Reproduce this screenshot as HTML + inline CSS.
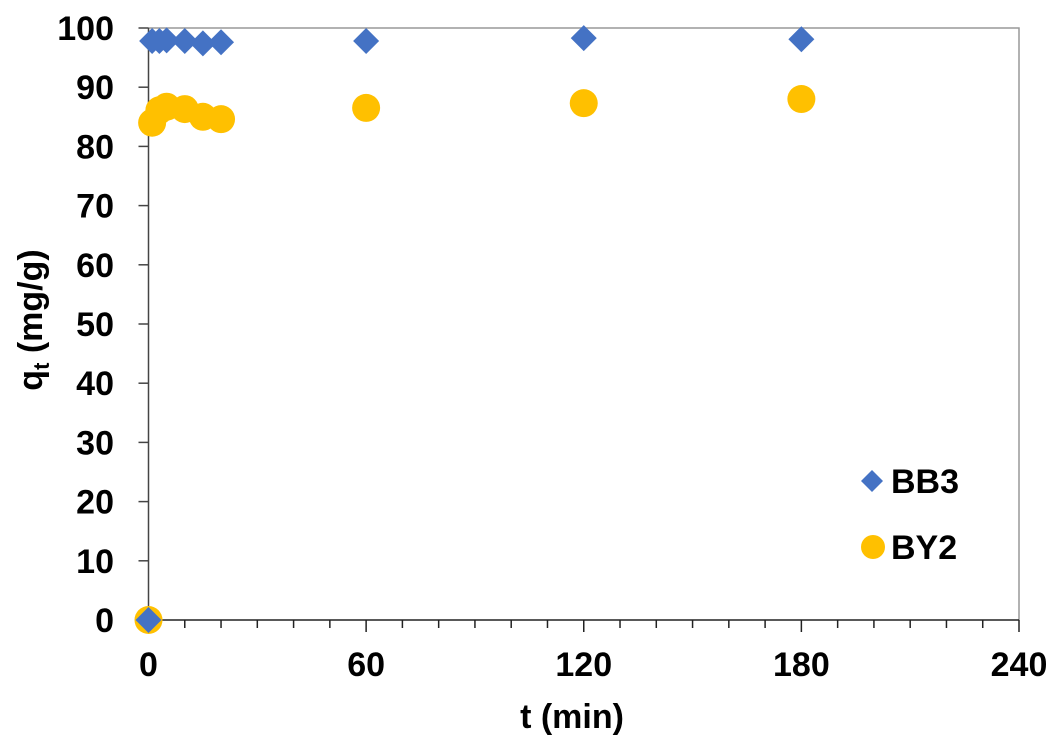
<!DOCTYPE html>
<html><head><meta charset="utf-8"><style>
html,body{margin:0;padding:0;background:#fff}
svg{display:block;font-family:"Liberation Sans",Arial,sans-serif;font-weight:bold}
</style></head><body>
<svg id="chart" width="1061" height="754" viewBox="0 0 1061 754" xmlns="http://www.w3.org/2000/svg">
<g id="axes"></g>
<g id="marks"></g>
<text x="572" y="728" font-size="34" text-anchor="middle">t (min)</text>
<text transform="translate(42,320) rotate(-90)" font-size="34" text-anchor="middle">q<tspan font-size="22" dy="7">t</tspan><tspan dy="-7"> (mg/g)</tspan></text>
<g>
<polygon points="872,470 883,481 872,492 861,481" fill="#4472C4"/>
<text x="891" y="493" font-size="34">BB3</text>
<circle cx="873" cy="547" r="12" fill="#FFC000"/>
<text x="891" y="559" font-size="34">BY2</text>
</g>
</svg>
<script>
const tBB3 = [0, 1, 3, 5, 10, 15, 20, 60, 120, 180];
const qBB3 = [0, 97.8, 97.8, 97.9, 97.8, 97.4, 97.6, 97.8, 98.3, 98.1];
const tBY2 = [0, 1, 3, 5, 10, 15, 20, 60, 120, 180];
const qBY2 = [0, 84.0, 86.1, 86.7, 86.3, 85.0, 84.6, 86.5, 87.3, 88.0];
const xTicks = [0, 60, 120, 180, 240];
const yTicks = [0, 10, 20, 30, 40, 50, 60, 70, 80, 90, 100];

const X0 = 148.5, X1 = 1019, Y0 = 620, Y1 = 28;
const xs = v => X0 + (v / 240) * (X1 - X0);
const ys = v => Y0 - (v / 100) * (Y0 - Y1);
const NS = "http://www.w3.org/2000/svg";
const axes = document.getElementById('axes');
const marks = document.getElementById('marks');
function mk(tag, attrs, parent) {
  const e = document.createElementNS(NS, tag);
  for (const k in attrs) e.setAttribute(k, attrs[k]);
  parent.appendChild(e);
  return e;
}
let f = mk('path', {d:`M${X0},${Y1} H${X1} V${Y0}`, fill:'none', stroke:'#999', 'stroke-width':1.5}, axes);


let ya = mk('line', {x1:X0, y1:Y1, x2:X0, y2:Y0, stroke:'#444', 'stroke-width':1.5}, axes);


let xa = mk('line', {x1:X0, y1:Y0, x2:X1, y2:Y0, stroke:'#222', 'stroke-width':1.5}, axes);


for (let v = 10; v <= 240; v += 10) {
  const major = v % 60 === 0;
  const t = mk('line', {x1:xs(v), y1:Y0, x2:xs(v), y2:Y0 + (major ? 12 : 8), stroke:'#222', 'stroke-width':1.5}, axes);
  
  
}
xTicks.forEach(v => {
  const t = mk('text', {x:xs(v), y:676, 'font-size':34, 'text-anchor':'middle'}, axes);
  t.textContent = v;
  
  
});
yTicks.forEach(v => {
  const tk = mk('line', {x1:X0 - 10, y1:ys(v), x2:X0, y2:ys(v), stroke:'#444', 'stroke-width':1.5}, axes);
  
  
  const t = mk('text', {x:114, y:ys(v) + 12, 'font-size':34, 'text-anchor':'end'}, axes);
  t.textContent = v;
  
  
});
tBY2.forEach((t, i) => {
  const c = mk('circle', {cx:xs(t), cy:ys(qBY2[i]), r:14, fill:'#FFC000'}, marks);
  
  
});
tBB3.forEach((t, i) => {
  const x = xs(t), y = ys(qBB3[i]), h = 13;
  const p = mk('polygon', {points:`${x},${y-h} ${x+h},${y} ${x},${y+h} ${x-h},${y}`, fill:'#4472C4'}, marks);
  
  
});
</script>
</body></html>
